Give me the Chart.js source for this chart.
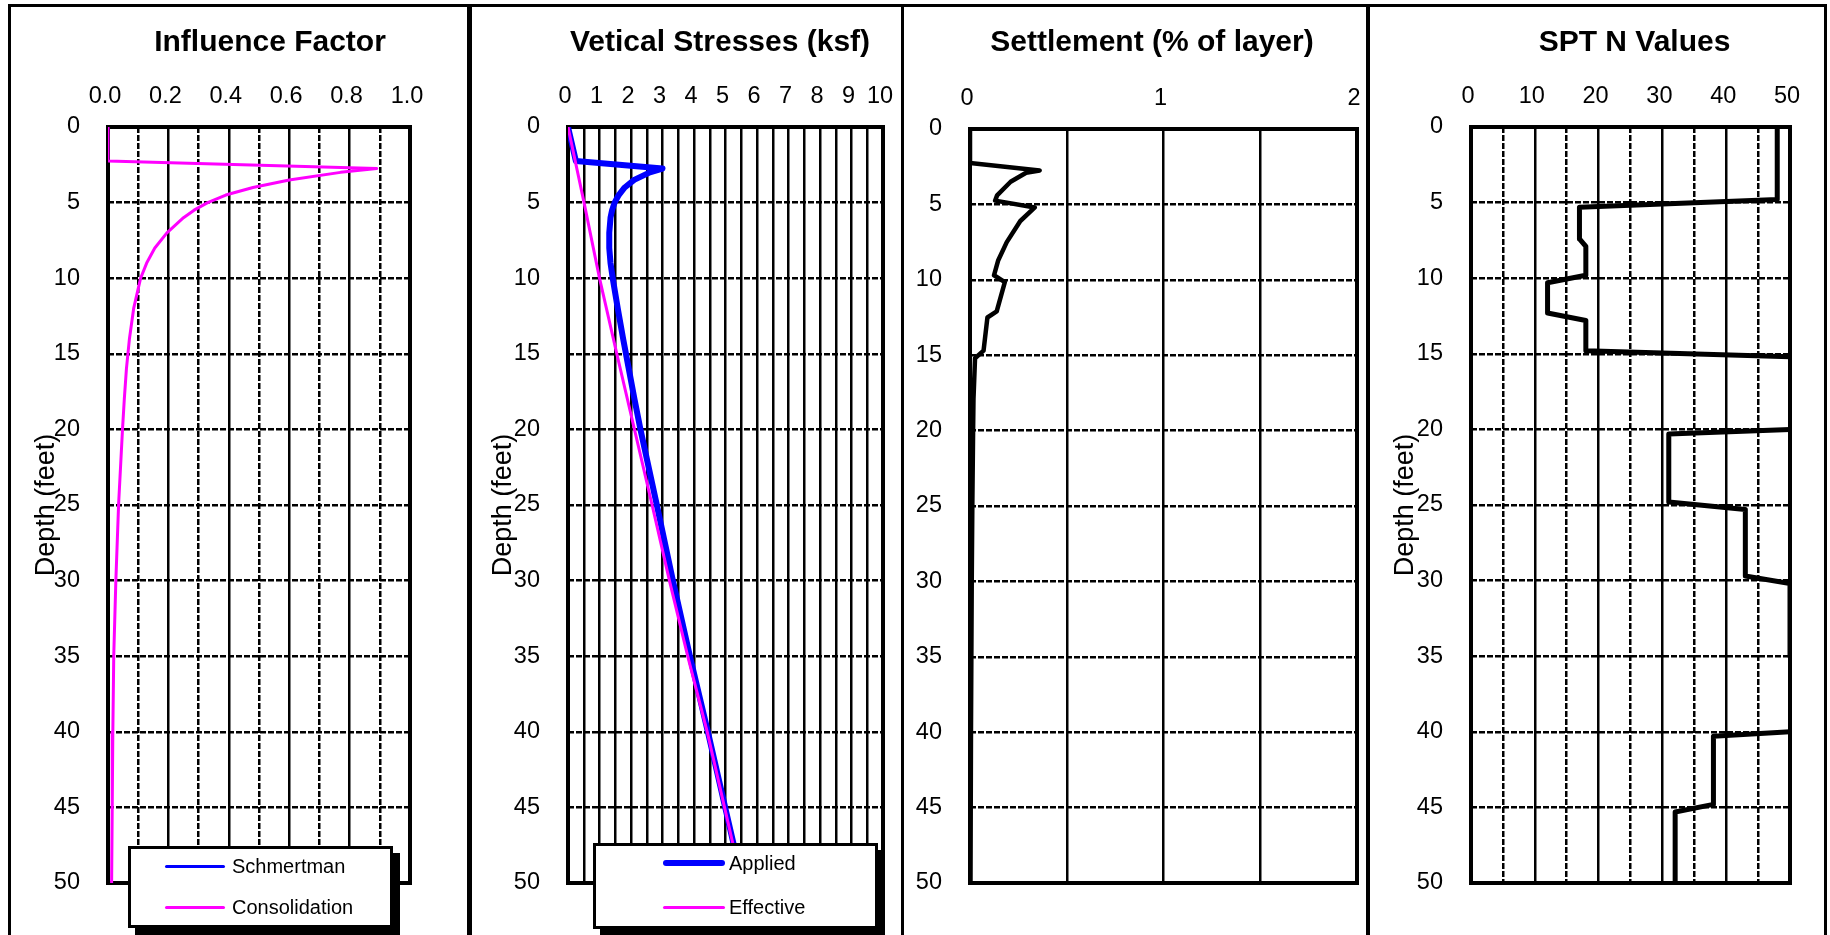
<!DOCTYPE html>
<html>
<head>
<meta charset="utf-8">
<script src="https://cdn.jsdelivr.net/npm/chart.js@4.4.0/dist/chart.umd.min.js"></script>
<style>
  body { margin: 0; background: #fff; width: 1830px; height: 935px; overflow: hidden; position: relative;
         font-family: "Liberation Sans", Arial, sans-serif; }
  .panel { position: absolute; top: 4px; height: 960px; border: 3px solid #000; box-sizing: border-box; }
  canvas { position: absolute; top: 7px; }
  .legend { position: absolute; background: #fff; border: 3px solid #000; box-shadow: 7px 7px 0 #000; box-sizing: border-box; }
  .legend .sw { position: absolute; }
  .legend .lbl { position: absolute; font-size: 20px; line-height: 24px; color: #000; white-space: nowrap; }
</style>
</head>
<body>
<div class="panel" style="left:8px;width:462px"></div>
<div class="panel" style="left:469px;width:435px"></div>
<div class="panel" style="left:901px;width:468px"></div>
<div class="panel" style="left:1367px;width:460px"></div>

<canvas id="c1" width="518" height="928" style="left:11px"></canvas>
<canvas id="c2" width="498" height="928" style="left:471px"></canvas>
<canvas id="c3" width="496" height="928" style="left:904px"></canvas>
<canvas id="c4" width="529" height="928" style="left:1370px"></canvas>

<script>
// depth (ft) and values
var calcDepth = [0, 2.25, 2.75, 3, 3.5, 4, 4.5, 5, 5.5, 6, 7, 8, 9, 10, 12, 14, 16, 18, 20, 25, 30, 35, 40, 45, 50];
var consolidation = [0, 0, 0.89, 0.77, 0.6, 0.48, 0.39, 0.33, 0.285, 0.25, 0.195, 0.155, 0.128, 0.108, 0.085, 0.071, 0.061, 0.054, 0.048, 0.035, 0.026, 0.019, 0.016, 0.014, 0.012];
var schmertman = [];   // legend entry only, no visible line in the picture

var applied = [0, 0.25, 3.0, 2.6, 2.1, 1.8, 1.61, 1.48, 1.4, 1.35, 1.31, 1.31, 1.35, 1.42, 1.58, 1.75, 1.93, 2.11, 2.3, 2.82, 3.33, 3.87, 4.44, 4.99, 5.54];
var effDepth = [0, 5, 10, 15, 20, 25, 30, 35, 40, 45, 50];
var effective = [0, 0.51, 1.0, 1.55, 2.11, 2.67, 3.22, 3.8, 4.42, 4.97, 5.52];

var settleDepth = [0, 2.25, 2.75, 2.9, 3.5, 4.4, 4.75, 5.2, 6.1, 7.5, 8.7, 9.7, 10.15, 12.1, 12.5, 14.7, 15.2, 17.9, 20, 25, 30, 35, 40, 45, 50];
var settlement = [0, 0, 0.36, 0.29, 0.21, 0.14, 0.13, 0.335, 0.26, 0.19, 0.146, 0.124, 0.18, 0.138, 0.09, 0.07, 0.026, 0.018, 0.016, 0.012, 0.009, 0.007, 0.005, 0.003, 0.002];

var sptDepth = [0, 4.8, 5.3, 7.4, 7.9, 9.8, 10.3, 12.3, 12.8, 14.8, 15.2, null, 20, 20.3, 24.8, 25.3, 29.7, 30.2, 35, null, 40, 40.3, 44.8, 45.3, 50];
var sptN = [48, 48, 17, 17, 18, 18, 12, 12, 18, 18, 50, null, 50, 31, 31, 43, 43, 50, 50, null, 50, 38, 38, 32, 32];

var ifLabels = ['0.0', '0.2', '0.4', '0.6', '0.8', '1.0'];
var stressLabels = ['0', '1', '2', '3', '4', '5', '6', '7', '8', '9', '10'];
var settleLabels = ['0', '1', '2'];
var sptLabels = ['0', '10', '20', '30', '40', '50'];

var BLUE = '#0000ff', MAGENTA = '#ff00ff';
Chart.defaults.font.family = '"Liberation Sans", Arial, sans-serif';
Chart.defaults.color = '#000';

function pts(xs, ys) {
    return xs.map(function(x, i) { return {x: x, y: ys[i]}; });
}

var plotFrame = {
    id: 'plotFrame',
    beforeDatasetsDraw: function(chart) {
        var a = chart.chartArea, c = chart.ctx;
        c.save();
        c.strokeStyle = '#000';
        c.lineWidth = 4;
        c.strokeRect(a.left, a.top, a.right - a.left, a.bottom - a.top);
        c.restore();
    }
};

function line(label, color, width, data, order) {
    return {
        label: label, data: data, showLine: true, borderColor: color, backgroundColor: color,
        borderWidth: width, pointRadius: 0, pointHoverRadius: 0, tension: 0,
        borderJoinStyle: 'round', borderCapStyle: 'round', order: order || 0
    };
}

function depthChart(cfg) {
    return new Chart(document.getElementById(cfg.id), {
        type: 'scatter',
        data: { datasets: cfg.datasets },
        options: {
            responsive: false,
            animation: false,
            events: [],
            layout: { padding: { left: 0, right: 0, top: 0, bottom: 52 } },
            plugins: {
                legend: { display: false },
                tooltip: { enabled: false },
                title: {
                    display: true, text: cfg.title, color: '#000',
                    font: { size: 30, weight: 'bold' }, padding: { top: 18, bottom: 0 }
                }
            },
            scales: {
                x: {
                    type: 'linear', position: 'top', min: cfg.xMin, max: cfg.xMax,
                    afterFit: function(s) { s.height = cfg.xAxisH; },
                    ticks: {
                        stepSize: cfg.step, autoSkip: false, maxRotation: 0, padding: 16, labelOffset: -3,
                        color: '#000', font: { size: 23.5 }, callback: cfg.label
                    },
                    grid: { color: '#000', lineWidth: 2.5, drawTicks: false },
                    border: { display: false, dash: cfg.xDash }
                },
                y: {
                    type: 'linear', reverse: true, min: 0, max: 50,
                    afterFit: function(s) { s.width = cfg.yAxisW; },
                    ticks: { stepSize: 5, autoSkip: false, padding: 28, color: '#000', font: { size: 23.5 } },
                    grid: { color: '#000', lineWidth: 2.5, drawTicks: false },
                    border: { display: false, dash: [6, 2] },
                    title: {
                        display: !!cfg.yTitlePad, text: 'Depth (feet)', color: '#000',
                        font: { size: 27 }, padding: { top: cfg.yTitlePad || 0, bottom: 0 }
                    }
                },
                // empty right-hand box so the title centres where the reference has it
                yR: {
                    type: 'linear', position: 'right', display: true,
                    afterFit: function(s) { s.width = cfg.rightW; },
                    ticks: { display: false },
                    grid: { display: false },
                    border: { display: false }
                }
            }
        },
        plugins: [plotFrame]
    });
}

function htmlLegend(chart, box) {
    var el = document.createElement('div');
    el.className = 'legend';
    el.style.left = box.left + 'px';
    el.style.top = box.top + 'px';
    el.style.width = box.width + 'px';
    el.style.height = box.height + 'px';
    chart.data.datasets.forEach(function(ds, i) {
        var cy = box.rows[i];
        var sw = document.createElement('div');
        sw.className = 'sw';
        sw.style.left = box.lineX + 'px';
        sw.style.width = box.lineW + 'px';
        sw.style.top = (cy - ds.borderWidth / 2) + 'px';
        sw.style.height = ds.borderWidth + 'px';
        sw.style.background = ds.borderColor;
        sw.style.borderRadius = (ds.borderWidth / 2) + 'px';
        var t = document.createElement('div');
        t.className = 'lbl';
        t.style.left = box.textX + 'px';
        t.style.top = (cy - 12) + 'px';
        t.textContent = ds.label;
        el.appendChild(sw);
        el.appendChild(t);
    });
    document.body.appendChild(el);
}

var chart1 = depthChart({
    id: 'c1', title: 'Influence Factor', xMin: 0, xMax: 1, step: 0.1,
    label: function(v, i) { return i % 2 ? '' : ifLabels[i / 2]; },
    xDash: function(ctx) { return ctx.index % 2 ? [6, 2] : []; },
    xAxisH: 66, yAxisW: 97, rightW: 119, yTitlePad: 19,
    datasets: [
        line('Schmertman', BLUE, 3, pts(schmertman, calcDepth), 1),
        line('Consolidation', MAGENTA, 3, pts(consolidation, calcDepth), 0)
    ]
});

var chart2 = depthChart({
    id: 'c2', title: 'Vetical Stresses (ksf)', xMin: 0, xMax: 10, step: 0.5,
    label: function(v, i) { return i % 2 ? '' : stressLabels[i / 2]; },
    xDash: [],
    xAxisH: 66, yAxisW: 97, rightW: 86, yTitlePad: 16,
    datasets: [
        line('Applied', BLUE, 6, pts(applied, calcDepth), 1),
        line('Effective', MAGENTA, 3, pts(effective, effDepth), 0)
    ]
});

var chart3 = depthChart({
    id: 'c3', title: 'Settlement (% of layer)', xMin: 0, xMax: 2, step: 0.5,
    label: function(v, i) { return i % 2 ? '' : settleLabels[i / 2]; },
    xDash: [],
    xAxisH: 68, yAxisW: 66, rightW: 43, yTitlePad: 0,
    datasets: [
        line('Settlement', '#000', 4.5, pts(settlement, settleDepth))
    ]
});

var chart4 = depthChart({
    id: 'c4', title: 'SPT N Values', xMin: 0, xMax: 50, step: 5,
    label: function(v, i) { return i % 2 ? '' : sptLabels[i / 2]; },
    xDash: function(ctx) { return ctx.index % 2 ? [6, 2] : []; },
    xAxisH: 66, yAxisW: 101, rightW: 109, yTitlePad: 19,
    datasets: [
        line('SPT N', '#000', 5, pts(sptN, sptDepth))
    ]
});

htmlLegend(chart1, { left: 128, top: 846, width: 265, height: 82, lineX: 34, lineW: 60, textX: 101, rows: [17, 58] });
htmlLegend(chart2, { left: 593, top: 843, width: 285, height: 86, lineX: 67, lineW: 62, textX: 133, rows: [17, 61] });
</script>
</body>
</html>
